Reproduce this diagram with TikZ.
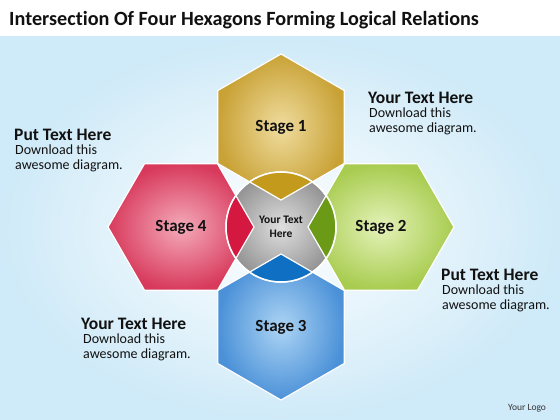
\documentclass[tikz,border=0pt]{standalone}
\usepackage{fontspec}
\setmainfont[Ligatures={NoCommon}]{Carlito}
\usetikzlibrary{shapes.geometric,positioning}

\definecolor{goldlite}{HTML}{EFDC9E}
\definecolor{goldmain}{HTML}{C9A236}
\definecolor{golddark}{HTML}{C39A1C}
\definecolor{redlite}{HTML}{F4AABA}
\definecolor{redmain}{HTML}{D83A5C}
\definecolor{reddark}{HTML}{D4183F}
\definecolor{greenlite}{HTML}{E4F2B8}
\definecolor{greenmain}{HTML}{A8CC50}
\definecolor{greendark}{HTML}{6B9A17}
\definecolor{bluelite}{HTML}{ACD4F4}
\definecolor{bluemain}{HTML}{4B91D8}
\definecolor{bluedark}{HTML}{0F6FC2}
\definecolor{skyedge}{HTML}{CFEAF8}
\definecolor{inktext}{HTML}{111111}

\tikzset{
  hexbox/.style={regular polygon, regular polygon sides=6, minimum size=146pt,
    inner sep=0pt, draw=white, line width=1.2pt, text=inktext,
    font=\fontsize{17}{17}\selectfont\bfseries},
  pointyhex/.style={hexbox, shape border rotate=90},
  flathex/.style={hexbox},
  headtext/.style={anchor=base west, inner sep=0pt, text=inktext,
    font=\fontsize{17.5}{17.5}\selectfont\bfseries},
  bodytext/.style={anchor=north west, inner sep=0pt, align=left, text=inktext,
    font=\fontsize{14}{15}\selectfont},
}

\begin{document}
\begin{tikzpicture}[%
      x=1pt, y=-1pt,
      ]
      \useasboundingbox (0,0) rectangle (560,420);
      \fill [white] (0,0) rectangle (560,420);
      \shade [inner color=white, outer color=skyedge] (0,37) rectangle (560,420);

      \node [anchor=base west, inner sep=0pt, text=inktext,
        font=\fontsize{20.2}{20.2}\selectfont\bfseries] (title) at (9,26)
        {Intersection Of Four Hexagons Forming Logical Relations};

      % the four stages
      \node [pointyhex, inner color=goldlite, outer color=goldmain] (stage1) at (281,127) {Stage 1};
      \node [flathex, inner color=greenlite, outer color=greenmain] (stage2) at (381,227) {Stage 2};
      \node [pointyhex, inner color=bluelite, outer color=bluemain] (stage3) at (281,327) {Stage 3};
      \node [flathex, inner color=redlite, outer color=redmain] (stage4) at (181,227) {Stage 4};

      % hub and the overlaps
      \node [circle, minimum size=110pt, inner sep=0pt, draw=white, line width=1.5pt,
        inner color=gray!25, outer color=gray!85] (hub) at (281,227) {};
      \begin{scope}
        \clip (hub.center) circle (55);
        \node [pointyhex, fill=golddark] (core1) at (stage1) {};
        \node [flathex, fill=greendark] (core2) at (stage2) {};
        \node [pointyhex, fill=bluedark] (core3) at (stage3) {};
        \node [flathex, fill=reddark] (core4) at (stage4) {};
      \end{scope}
      \draw [white, line width=1.5pt] (hub.center) circle (55);
      \node [align=center, text=inktext, font=\fontsize{11.5}{14.5}\selectfont\bfseries]
        (hubtext) at (hub.center) {Your Text\\Here};

      % side texts
      \node [headtext] (trhead) at (368,103) {Your Text Here};
      \node [bodytext] (trbody) at (369,108) {Download this\\awesome diagram.};
      \node [headtext] (tlhead) at (14,140) {Put Text Here};
      \node [bodytext] (tlbody) at (15,145) {Download this\\awesome diagram.};
      \node [headtext] (brhead) at (441,280) {Put Text Here};
      \node [bodytext] (brbody) at (442,285) {Download this\\awesome diagram.};
      \node [headtext] (blhead) at (81,329) {Your Text Here};
      \node [bodytext] (blbody) at (83,334) {Download this\\awesome diagram.};

      \node [anchor=base west, inner sep=0pt, text=inktext!85,
        font=\fontsize{9.5}{9.5}\selectfont] (logo) at (508,410) {Your Logo};
      \end{tikzpicture}
\end{document}
